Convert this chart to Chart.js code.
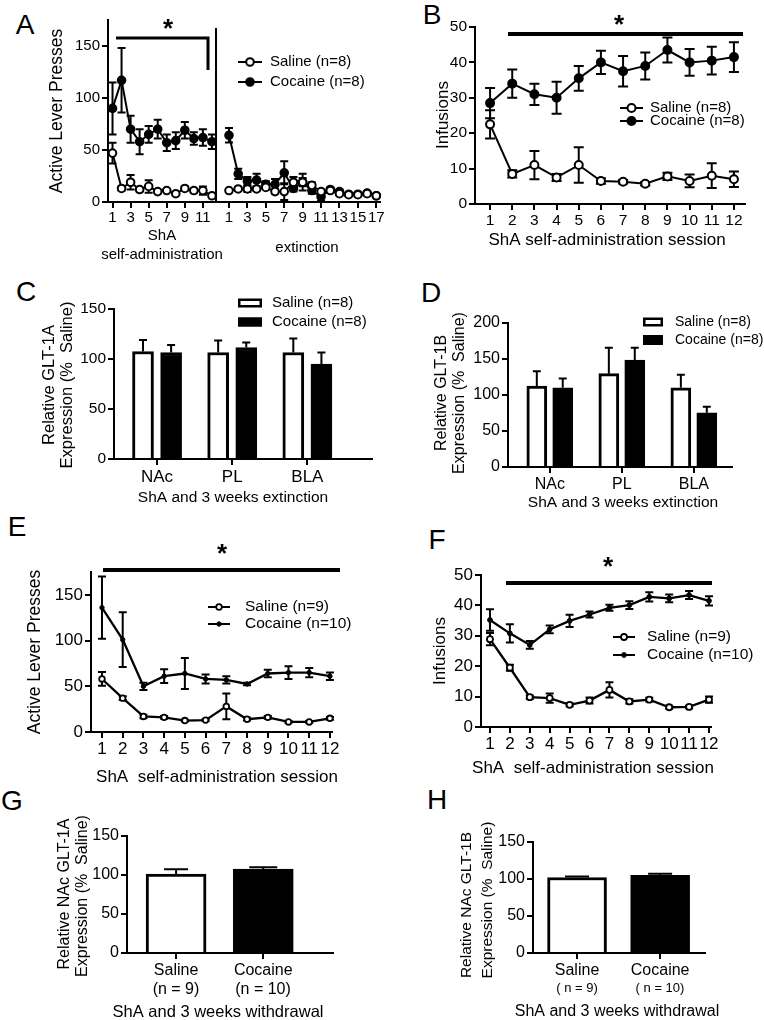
<!DOCTYPE html>
<html>
<head>
<meta charset="utf-8">
<script src="https://cdn.jsdelivr.net/npm/chart.js@4.4.0/dist/chart.umd.min.js"></script>
<style>
  body { margin: 0; width: 764px; height: 1020px; background: #fff; position: relative; overflow: hidden;
         font-family: "Liberation Sans", Arial, sans-serif; }
  canvas { position: absolute; }
  .letter { position: absolute; font-size: 28px; transform: translate(-50%, -50%); color: #000; }
</style>
</head>
<body>
<div class="letter" style="left:25px;top:25px">A</div>
<div class="letter" style="left:432px;top:15px">B</div>
<div class="letter" style="left:26px;top:292px">C</div>
<div class="letter" style="left:431px;top:293px">D</div>
<div class="letter" style="left:17px;top:527px">E</div>
<div class="letter" style="left:437px;top:540px">F</div>
<div class="letter" style="left:12px;top:801px">G</div>
<div class="letter" style="left:437px;top:800px">H</div>

<script>
const FONT = '"Liberation Sans", Arial, sans-serif';

// --- données ---
// A : ShA self-administration (12 sessions) puis extinction (17 sessions)
const sessA = [1, 2, 3, 4, 5, 6, 7, 8, 9, 10, 11, 12];
const salA = [47, 13, 19, 12, 15, 10, 11, 8, 13, 11, 11, 6];
const salAErr = [10, 2, 7, 2, 6, 1.5, 1.5, 1.5, 2, 2, 4, 1.5];
const cocA = [90, 117, 70, 58, 65, 70, 57, 59, 69, 61, 62, 58];
const cocAErr = [25, 31, 13, 12, 8, 9, 8, 8, 8, 6, 8, 7];
const sessExt = [1, 2, 3, 4, 5, 6, 7, 8, 9, 10, 11, 12, 13, 14, 15, 16, 17];
const salExt = [11, 12.5, 12.5, 12.5, 14, 10, 10, 19, 19, 16, 10, 11, 8, 7, 7, 8, 6];
const salExtErr = [1.5, 2, 3, 2, 2, 2, 8, 5, 4, 3, 2, 2, 1.5, 1, 1, 1.5, 1];
const cocExt = [64, 27, 20, 21, 17, 17, 28, 13, 19, 11, 5, 12, 10, 7.5, 7.5, 8.5, 6];
const cocExtErr = [7, 5, 4, 6, 3, 5, 11, 3, 8, 3, 4, 2, 2, 1, 1, 2, 1];
const xTicksA = [1, 3, 5, 7, 9, 11];
const xTicksExt = [1, 3, 5, 7, 9, 11, 13, 15, 17];
const yTicksA = [0, 50, 100, 150];

// B : infusions
const sessB = [1, 2, 3, 4, 5, 6, 7, 8, 9, 10, 11, 12];
const salB = [22.5, 8.5, 11, 7.5, 11, 6.5, 6.3, 5.7, 7.8, 6.5, 8, 7];
const salBErr = [4, 1, 4, 1, 5, 0.8, 0.5, 0.5, 1, 1.8, 3.5, 2.2];
const cocB = [28.5, 34, 31, 30, 35.5, 40, 37.5, 39, 43.5, 40, 40.5, 41.5];
const cocBErr = [4.3, 4, 3, 4.5, 3.5, 3.3, 4.3, 3.8, 3.5, 3.8, 3.9, 4.2];
const yTicksB = [0, 10, 20, 30, 40, 50];

// C / D : GLT-1A et GLT-1B
const regions = ['NAc', 'PL', 'BLA'];
const salC = [107.5, 106.5, 106.5];
const salCErr = [11.5, 12, 14];
const cocC = [106.5, 111.5, 95];
const cocCErr = [7.5, 5, 11.5];
const yTicksC = [0, 50, 100, 150];
const salD = [112.5, 129.6, 110];
const salDErr = [20.5, 36, 18];
const cocD = [110, 148.6, 75.4];
const cocDErr = [13, 17, 8.4];
const yTicksD = [0, 50, 100, 150, 200];

// E / F : deuxième cohorte
const sessE = [1, 2, 3, 4, 5, 6, 7, 8, 9, 10, 11, 12];
const salE = [58, 37, 17, 16, 12.5, 13, 28, 14, 16, 11, 11, 15];
const salEErr = [7.5, 2, 2, 1.5, 1, 1, 14, 1.5, 1.5, 1, 1, 1.5];
const cocE = [136, 101, 50, 61, 64, 58, 57, 52.5, 64, 65, 65, 61];
const cocEErr = [34, 30, 4, 7.5, 17, 5, 4, 1.5, 4, 7, 5, 4];
const salF = [28.9, 19.5, 9.8, 9.5, 7.3, 8.7, 12.2, 8.4, 9, 6.5, 6.6, 9];
const salFErr = [2, 1, 0.6, 1.5, 0.5, 1, 2.5, 0.7, 0.6, 0.5, 0.4, 1];
const cocF = [35.2, 30.8, 27, 32.1, 34.9, 37, 39.2, 40.1, 42.8, 42.3, 43.4, 41.5];
const cocFErr = [3.5, 3, 1.3, 1.3, 2, 1, 1, 1.3, 1.5, 1.3, 1.3, 1.5];
const xTicksE = [1, 2, 3, 4, 5, 6, 7, 8, 9, 10, 11, 12];

// G / H : NAc après sevrage
const groups = ['Saline', 'Cocaine'];
const groupNG = ['(n = 9)', '(n = 10)'];
const groupNH = ['( n = 9)', '( n = 10)'];
const valG = [101.3, 107.5];
const errG = [6, 2.5];
const valH = [102, 105];
const errH = [1.5, 2];
const yTicksG = [0, 50, 100, 150];

// --- plugins ---
const EXTRAS = {};

function drawErrors(chart) {
  const ctx = chart.ctx;
  const ys = chart.scales.y;
  ctx.save();
  ctx.strokeStyle = '#000';
  chart.data.datasets.forEach((ds, di) => {
    if (!ds.err) return;
    const meta = chart.getDatasetMeta(di);
    ctx.lineWidth = ds.errWidth || 2;
    meta.data.forEach((el, i) => {
      const e = ds.err[i];
      if (!e) return;
      const v = ds.data[i].y;
      const x = el.x;
      const top = ys.getPixelForValue(v + e);
      const bot = ds.upOnly ? el.y : ys.getPixelForValue(v - e);
      const c = ds.cap;
      ctx.beginPath();
      ctx.moveTo(x, bot); ctx.lineTo(x, top);
      ctx.moveTo(x - c, top); ctx.lineTo(x + c, top);
      if (!ds.upOnly) { ctx.moveTo(x - c, bot); ctx.lineTo(x + c, bot); }
      ctx.stroke();
    });
  });
  ctx.restore();
}

const errorBars = {
  id: 'errorBars',
  beforeDatasetsDraw(chart) { if (chart.config.type === 'line') drawErrors(chart); },
  afterDatasetsDraw(chart) { if (chart.config.type === 'bar') drawErrors(chart); }
};

const extras = {
  id: 'extras',
  afterDraw(chart) {
    const o = EXTRAS[chart.canvas.id];
    if (!o) return;
    const ctx = chart.ctx;
    ctx.save();
    ctx.translate(-o.origin[0], -o.origin[1]);
    ctx.fillStyle = '#000';
    ctx.strokeStyle = '#000';
    (o.lines || []).forEach(l => {
      ctx.beginPath();
      ctx.lineWidth = l.w;
      ctx.lineJoin = 'miter';
      ctx.moveTo(l.pts[0][0], l.pts[0][1]);
      l.pts.slice(1).forEach(p => ctx.lineTo(p[0], p[1]));
      ctx.stroke();
    });
    (o.legend || []).forEach(g => {
      if (g.kind === 'line') {
        ctx.lineWidth = 2;
        ctx.beginPath(); ctx.moveTo(g.x1, g.y); ctx.lineTo(g.x2, g.y); ctx.stroke();
        ctx.beginPath(); ctx.arc((g.x1 + g.x2) / 2, g.y, g.r, 0, Math.PI * 2);
        ctx.fillStyle = g.open ? '#fff' : '#000';
        ctx.fill();
        ctx.lineWidth = g.bw; ctx.stroke();
      } else {
        ctx.fillStyle = g.open ? '#fff' : '#000';
        ctx.fillRect(g.x1, g.y - g.h / 2, g.x2 - g.x1, g.h);
        ctx.lineWidth = 2.5;
        ctx.strokeRect(g.x1 + 1.25, g.y - g.h / 2 + 1.25, g.x2 - g.x1 - 2.5, g.h - 2.5);
      }
      ctx.fillStyle = '#000';
      ctx.font = g.size + 'px ' + FONT;
      ctx.textAlign = 'left'; ctx.textBaseline = 'middle';
      ctx.fillText(g.text, g.tx, g.y);
    });
    (o.texts || []).forEach(t => {
      ctx.save();
      ctx.translate(t.x, t.y);
      if (t.rot) ctx.rotate(-Math.PI / 2);
      ctx.font = (t.bold ? 'bold ' : '') + t.size + 'px ' + FONT;
      ctx.textAlign = 'center'; ctx.textBaseline = 'middle';
      ctx.fillText(t.t, 0, 0);
      ctx.restore();
    });
    ctx.restore();
  }
};

Chart.register(errorBars, extras);

// --- helpers ---
function xy(xs, ys) { return xs.map((x, i) => ({ x: x, y: ys[i] })); }

function axisX(o) {
  return {
    type: 'linear', min: o.min, max: o.max, offset: false,
    afterBuildTicks: s => { s.ticks = o.ticks.map(v => ({ value: v })); },
    afterFit: s => { s.height = 26; },
    ticks: {
      autoSkip: false, maxRotation: 0, minRotation: 0, color: '#000', padding: o.pad ?? 1,
      font: { family: FONT, size: o.size },
      callback: o.labels ? (v => o.labels[Math.round(v)] ?? '') : (v => String(v))
    },
    grid: { drawOnChartArea: false, drawTicks: true, tickLength: 6, tickWidth: 2, lineWidth: 2, color: '#000', offset: false },
    border: { display: true, color: '#000', width: 2 }
  };
}

function axisY(o) {
  const show = o.labels !== false;
  return {
    type: 'linear', min: o.min, max: o.max,
    afterBuildTicks: s => { s.ticks = o.ticks.map(v => ({ value: v })); },
    afterFit: s => { s.width = show ? 40 : 0; },
    ticks: { display: show, color: '#000', padding: 2, font: { family: FONT, size: o.size } },
    grid: { display: show, drawOnChartArea: false, drawTicks: true, tickLength: 6, tickWidth: 2, lineWidth: 2, color: '#000' },
    border: { display: true, color: '#000', width: 2 }
  };
}

// box = position du canvas sur la page, area = zone de tracé voulue
function panel(id, type, box, area, datasets, xAxis, yAxis, extra) {
  const cv = document.createElement('canvas');
  cv.id = id;
  cv.width = box.w; cv.height = box.h;
  cv.style.left = box.l + 'px'; cv.style.top = box.t + 'px';
  cv.style.width = box.w + 'px'; cv.style.height = box.h + 'px';
  document.body.appendChild(cv);
  extra.origin = [box.l, box.t];
  EXTRAS[id] = extra;
  const yW = yAxis.labels === false ? 0 : 40;
  new Chart(cv, {
    type: type,
    data: { datasets: datasets },
    options: {
      responsive: false, animation: false, devicePixelRatio: 1,
      layout: { padding: {
        left: area.l - box.l - yW,
        right: box.l + box.w - area.r,
        top: area.t - box.t,
        bottom: box.t + box.h - area.b - 26
      } },
      plugins: { legend: { display: false }, tooltip: { enabled: false } },
      scales: { x: axisX(xAxis), y: axisY(yAxis) }
    }
  });
}

function lineDs(xs, ys, err, open, r, bw, cap, lw) {
  return {
    data: xy(xs, ys), err: err, cap: cap, errWidth: 2,
    borderColor: '#000', borderWidth: lw, tension: 0, clip: false,
    pointRadius: r, pointBorderWidth: bw, pointBorderColor: '#000',
    pointBackgroundColor: open ? '#fff' : '#000'
  };
}

function barDs(xs, ys, err, open, thick, cap) {
  return {
    data: xy(xs, ys), err: err, upOnly: true, cap: cap, errWidth: 2,
    backgroundColor: open ? '#fff' : '#000', borderColor: '#000', borderWidth: 3,
    barThickness: thick, grouped: false, clip: false
  };
}

// --- A ---
panel('pA1', 'line', { l: 0, t: 0, w: 230, h: 265 }, { l: 108, r: 216, t: 20, b: 202 },
  [lineDs(sessA, salA, salAErr, true, 3.8, 2, 4, 2), lineDs(sessA, cocA, cocAErr, false, 3.8, 2, 4, 2)],
  { min: 0.5, max: 12.45, ticks: xTicksA, size: 15 },
  { min: 0, max: 175, ticks: yTicksA, size: 15 },
  {
    lines: [{ w: 3, pts: [[116, 38], [208, 38], [208, 70]] }],
    texts: [
      { t: '*', x: 168, y: 30, size: 26, bold: true },
      { t: 'Active Lever Presses', x: 57, y: 111, size: 17.5, rot: true },
      { t: 'ShA', x: 162, y: 236, size: 15 },
      { t: 'self-administration', x: 162, y: 255, size: 15 }
    ]
  });

panel('pA2', 'line', { l: 170, t: 0, w: 220, h: 265 }, { l: 216, r: 380, t: 29, b: 202 },
  [lineDs(sessExt, salExt, salExtErr, true, 3.8, 2, 4, 2), lineDs(sessExt, cocExt, cocExtErr, false, 3.8, 2, 4, 2)],
  { min: -0.41, max: 17.4, ticks: xTicksExt, size: 15 },
  { min: 0, max: 166, ticks: [0], size: 15, labels: false },
  {
    legend: [
      { kind: 'line', x1: 238, x2: 262, y: 62, r: 3.8, bw: 2, open: true, text: 'Saline (n=8)', tx: 270, size: 15 },
      { kind: 'line', x1: 238, x2: 262, y: 82, r: 3.8, bw: 2, open: false, text: 'Cocaine (n=8)', tx: 270, size: 15 }
    ],
    texts: [{ t: 'extinction', x: 307, y: 248, size: 15 }]
  });

// --- B ---
panel('pB', 'line', { l: 380, t: 0, w: 384, h: 265 }, { l: 475, r: 745, t: 27, b: 204 },
  [lineDs(sessB, salB, salBErr, true, 4, 2, 5, 2), lineDs(sessB, cocB, cocBErr, false, 4, 2, 5, 2)],
  { min: 0.32, max: 12.5, ticks: xTicksE, size: 15.5 },
  { min: 0, max: 50, ticks: yTicksB, size: 15.5 },
  {
    lines: [{ w: 4, pts: [[508, 34], [743, 34]] }],
    legend: [
      { kind: 'line', x1: 620, x2: 643, y: 108, r: 4, bw: 2, open: true, text: 'Saline (n=8)', tx: 650, size: 15 },
      { kind: 'line', x1: 620, x2: 643, y: 121, r: 4, bw: 2, open: false, text: 'Cocaine (n=8)', tx: 650, size: 15 }
    ],
    texts: [
      { t: '*', x: 619, y: 26, size: 26, bold: true },
      { t: 'Infusions', x: 443, y: 115, size: 17, rot: true },
      { t: 'ShA self-administration session', x: 607, y: 240, size: 17 }
    ]
  });

// --- C ---
const regX = [0, 1, 2];
panel('pC', 'bar', { l: 0, t: 270, w: 380, h: 250 }, { l: 114, r: 372, t: 309, b: 459 },
  [barDs(regX.map(v => v - 0.187), salC, salCErr, true, 21, 4), barDs(regX.map(v => v + 0.187), cocC, cocCErr, false, 21, 4)],
  { min: -0.573, max: 2.86, ticks: regX, labels: regions, size: 17, pad: 2 },
  { min: 0, max: 150, ticks: yTicksC, size: 15.5 },
  {
    legend: [
      { kind: 'box', x1: 238, x2: 262, y: 303, h: 9, open: true, text: 'Saline (n=8)', tx: 272, size: 15 },
      { kind: 'box', x1: 238, x2: 262, y: 322, h: 9, open: false, text: 'Cocaine (n=8)', tx: 272, size: 15 }
    ],
    texts: [
      { t: 'Relative GLT-1A', x: 49, y: 385, size: 16.5, rot: true },
      { t: 'Expression (%  Saline)', x: 67, y: 385, size: 16.5, rot: true },
      { t: 'ShA and 3 weeks extinction', x: 233, y: 498, size: 15.5 }
    ]
  });

// --- D ---
panel('pD', 'bar', { l: 380, t: 270, w: 384, h: 250 }, { l: 508, r: 732, t: 323, b: 467 },
  [barDs(regX.map(v => v - 0.18), salD, salDErr, true, 20, 4), barDs(regX.map(v => v + 0.18), cocD, cocDErr, false, 20, 4)],
  { min: -0.58, max: 2.53, ticks: regX, labels: regions, size: 16, pad: 2 },
  { min: 0, max: 200, ticks: yTicksD, size: 16 },
  {
    legend: [
      { kind: 'box', x1: 643, x2: 663, y: 322, h: 9, open: true, text: 'Saline (n=8)', tx: 675, size: 14 },
      { kind: 'box', x1: 643, x2: 663, y: 340, h: 10, open: false, text: 'Cocaine (n=8)', tx: 675, size: 14 }
    ],
    texts: [
      { t: 'Relative GLT-1B', x: 442, y: 393, size: 16, rot: true },
      { t: 'Expression (%  Saline)', x: 460, y: 393, size: 16, rot: true },
      { t: 'ShA and 3 weeks extinction', x: 623, y: 503, size: 15.5 }
    ]
  });

// --- E ---
panel('pE', 'line', { l: 0, t: 520, w: 380, h: 270 }, { l: 91, r: 332, t: 572, b: 732 },
  [lineDs(sessE, salE, salEErr, true, 2.8, 1.8, 4, 2.3), lineDs(sessE, cocE, cocEErr, false, 2.2, 1, 4, 2.3)],
  { min: 0.47, max: 12.1, ticks: xTicksE, size: 17 },
  { min: 0, max: 175, ticks: yTicksA, size: 17 },
  {
    lines: [{ w: 4, pts: [[103, 570], [340, 570]] }],
    legend: [
      { kind: 'line', x1: 208, x2: 230, y: 607, r: 2.8, bw: 1.8, open: true, text: 'Saline (n=9)', tx: 245, size: 15.5 },
      { kind: 'line', x1: 208, x2: 230, y: 624, r: 2.2, bw: 1, open: false, text: 'Cocaine (n=10)', tx: 245, size: 15.5 }
    ],
    texts: [
      { t: '*', x: 222, y: 555, size: 26, bold: true },
      { t: 'Active Lever Presses', x: 35, y: 652, size: 17.5, rot: true },
      { t: 'ShA  self-administration session', x: 217, y: 777, size: 17 }
    ]
  });

// --- F ---
panel('pF', 'line', { l: 380, t: 520, w: 384, h: 270 }, { l: 481, r: 711, t: 575, b: 727 },
  [lineDs(sessE, salF, salFErr, true, 3, 1.8, 4, 2.3), lineDs(sessE, cocF, cocFErr, false, 2.4, 1, 4, 2.3)],
  { min: 0.55, max: 12.1, ticks: xTicksE, size: 17 },
  { min: 0, max: 50, ticks: yTicksB, size: 17 },
  {
    lines: [{ w: 4, pts: [[506, 583], [712, 583]] }],
    legend: [
      { kind: 'line', x1: 613, x2: 635, y: 637, r: 3, bw: 1.8, open: true, text: 'Saline (n=9)', tx: 647, size: 15.5 },
      { kind: 'line', x1: 613, x2: 635, y: 655, r: 2.4, bw: 1, open: false, text: 'Cocaine (n=10)', tx: 647, size: 15.5 }
    ],
    texts: [
      { t: '*', x: 608, y: 568, size: 26, bold: true },
      { t: 'Infusions', x: 440, y: 651, size: 17, rot: true },
      { t: 'ShA  self-administration session', x: 593, y: 768, size: 17 }
    ]
  });

// --- G ---
const grpX = [0, 1];
panel('pG', 'bar', { l: 0, t: 800, w: 380, h: 220 }, { l: 127, r: 333, t: 836, b: 953 },
  [barDs([grpX[0]], [valG[0]], [errG[0]], true, 60, 12), barDs([grpX[1]], [valG[1]], [errG[1]], false, 60, 14)],
  { min: -0.563, max: 1.8, ticks: grpX, labels: groups, size: 16, pad: 2 },
  { min: 0, max: 150, ticks: yTicksG, size: 16 },
  {
    texts: [
      { t: 'Relative NAc GLT-1A', x: 65, y: 894, size: 16, rot: true },
      { t: 'Expression (%  Saline)', x: 83, y: 896, size: 16, rot: true },
      { t: groupNG[0], x: 176, y: 990, size: 16 },
      { t: groupNG[1], x: 263, y: 990, size: 16 },
      { t: 'ShA and 3 weeks withdrawal', x: 218, y: 1012, size: 16.5 }
    ]
  });

// --- H ---
panel('pH', 'bar', { l: 380, t: 800, w: 384, h: 220 }, { l: 533, r: 705, t: 842, b: 953 },
  [barDs([grpX[0]], [valH[0]], [errH[0]], true, 59, 12), barDs([grpX[1]], [valH[1]], [errH[1]], false, 59, 12)],
  { min: -0.53, max: 1.54, ticks: grpX, labels: groups, size: 16, pad: 2 },
  { min: 0, max: 150, ticks: yTicksG, size: 16 },
  {
    texts: [
      { t: 'Relative NAc GLT-1B', x: 467, y: 905, size: 15.5, rot: true },
      { t: 'Expression (%  Saline)', x: 488, y: 900, size: 15.5, rot: true },
      { t: groupNH[0], x: 577, y: 988, size: 13 },
      { t: groupNH[1], x: 660, y: 988, size: 13 },
      { t: 'ShA and 3 weeks withdrawal', x: 617, y: 1012, size: 16 }
    ]
  });
</script>
</body>
</html>
